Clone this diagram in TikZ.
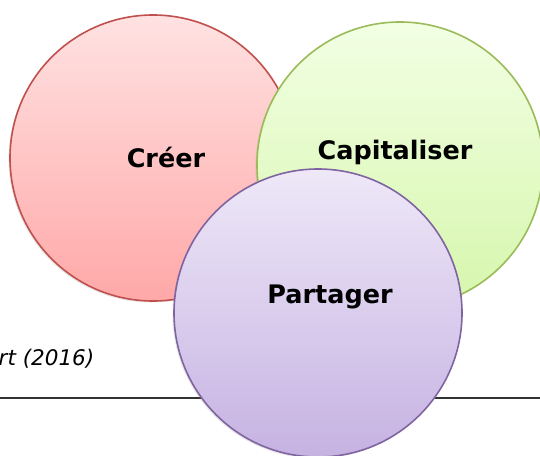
\documentclass[tikz,border=0pt]{standalone}
\usepackage{fontspec}
\setmainfont{DejaVu Sans}
\usetikzlibrary{shadows}
\definecolor{redline}{RGB}{192,80,77}
\definecolor{redtop}{RGB}{255,226,226}
\definecolor{redbot}{RGB}{255,168,168}
\definecolor{greenline}{RGB}{155,187,89}
\definecolor{greentop}{RGB}{242,255,228}
\definecolor{greenbot}{RGB}{214,246,172}
\definecolor{purpleline}{RGB}{128,100,162}
\definecolor{purpletop}{RGB}{238,232,248}
\definecolor{purplebot}{RGB}{198,178,226}
\definecolor{rulegrey}{RGB}{50,50,50}
\tikzset{
  bubble/.style={circle, inner sep=0pt, line width=1.6pt,
    drop shadow={shadow xshift=-1.5pt, shadow yshift=-1.5pt, opacity=0.18}},
  lbl/.style={font=\bfseries\fontsize{25.5}{30}\selectfont, inner sep=0pt, text=black},
  note/.style={font=\itshape\fontsize{21.5}{26}\selectfont, inner sep=0pt, anchor=base west}
}
\begin{document}
\begin{tikzpicture}[x=1pt,y=-1pt]
\useasboundingbox (0,0) rectangle (540,455);
\clip (0,0) rectangle (540,455);
\fill[white] (0,0) rectangle (540,455);
\node[note] (src) at (-1.5,365) {rt (2016)};
\coordinate (l1) at (0,398);
\coordinate (l2) at (540,398);
\draw[rulegrey, line width=2.6pt] (l1) -- (l2);
\node[bubble, minimum size=286pt, draw=redline, top color=redtop, bottom color=redbot] (creer) at (153,158) {};
\node[bubble, minimum size=286pt, draw=greenline, top color=greentop, bottom color=greenbot] (capit) at (400,165) {};
\node[bubble, minimum size=288pt, draw=purpleline, top color=purpletop, bottom color=purplebot] (parta) at (318,313) {};
\node[lbl] (t1) at (166,157) {Créer};
\node[lbl] (t2) at (395,152) {Capitaliser};
\node[lbl] (t3) at (330,297) {Partager};
\end{tikzpicture}
\end{document}
